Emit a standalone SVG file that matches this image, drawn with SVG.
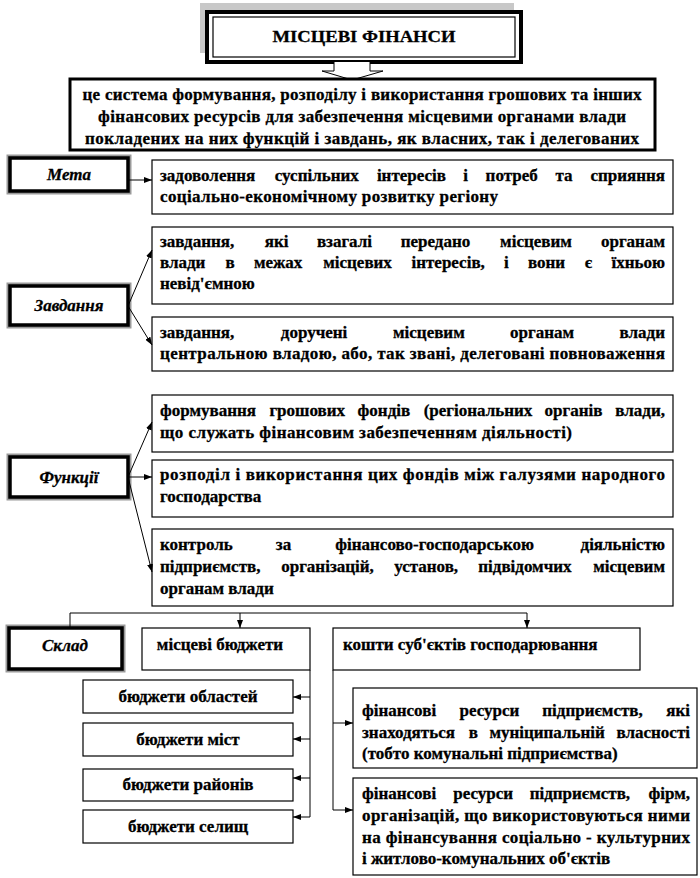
<svg xmlns="http://www.w3.org/2000/svg" width="700" height="878" viewBox="0 0 700 878">
<defs>
<style>
.t{font-family:'Liberation Serif','DejaVu Serif',serif;font-weight:700;font-size:17px;fill:#000;stroke:#000;stroke-width:0.3}
.c{text-anchor:middle}
.e{text-anchor:end}
.lb{font-style:italic;text-anchor:middle}
.box{fill:#fff;stroke:#000;stroke-width:1.2}
.lsh{fill:none;stroke:#9a9a9a;stroke-width:7}
.lbx{fill:#fff;stroke:#000;stroke-width:3.5}
.cn{fill:none;stroke:#000;stroke-width:1}
</style>
<marker id="ah" viewBox="0 0 8 6" refX="8" refY="3" markerWidth="8" markerHeight="6" markerUnits="userSpaceOnUse" orient="auto"><path d="M0,0L8,3L0,6z" fill="#000"/></marker>
</defs>
<rect width="700" height="878" fill="#fff"/>

<g id="title">
<rect x="200" y="3" width="314" height="50" fill="#c8c8c8"/>
<rect x="207" y="12" width="314" height="50" fill="#fff" stroke="#000" stroke-width="4"/>
<rect x="213" y="17" width="302" height="40" fill="none" stroke="#000" stroke-width="1.2"/>
<text class="t c" x="364" y="42" textLength="183" lengthAdjust="spacingAndGlyphs">МІСЦЕВІ ФІНАНСИ</text>
<path d="M334,62V71H322L352,80L383,71H370V62" fill="#fff" stroke="#000" stroke-width="1"/>
</g>

<g id="definition">
<rect x="70" y="79" width="585" height="71" fill="#fff" stroke="#000" stroke-width="3"/>
<text class="t c" x="362" y="100" textLength="559" lengthAdjust="spacing">це система формування, розподілу і використання грошових та інших</text>
<text class="t c" x="362" y="122" textLength="528" lengthAdjust="spacing">фінансових ресурсів для забезпечення місцевими органами влади</text>
<text class="t c" x="362" y="144" textLength="554" lengthAdjust="spacing">покладених на них функцій і завдань, як власних, так і делегованих</text>
</g>

<g id="meta-label">
<rect class="lsh" x="10" y="158" width="118" height="33"/>
<rect class="lbx" x="10" y="158" width="118" height="33"/>
<text class="t lb" x="69" y="180">Мета</text>
</g>
<g id="meta-box">
<rect class="box" x="152" y="160" width="521" height="54"/>
<text class="t" y="181"><tspan x="160">задоволення</tspan><tspan x="274.8">суспільних</tspan><tspan x="376.9">інтересів</tspan><tspan x="463.3">і</tspan><tspan x="485.6">потреб</tspan><tspan x="555.4">та</tspan></text>
<text class="t e" x="665" y="181">сприяння</text>
<text class="t" x="160" y="202" textLength="338" lengthAdjust="spacing">соціально-економічному розвитку регіону</text>
</g>

<g id="zavd-label">
<rect class="lsh" x="10" y="286" width="118" height="39"/>
<rect class="lbx" x="10" y="286" width="118" height="39"/>
<text class="t lb" x="69" y="311">Завдання</text>
</g>
<g id="zavd-box1">
<rect class="box" x="152" y="227" width="521" height="77"/>
<text class="t" y="247"><tspan x="160">завдання,</tspan><tspan x="264.7">які</tspan><tspan x="316.9">взагалі</tspan><tspan x="400.7">передано</tspan><tspan x="500.1">місцевим</tspan></text>
<text class="t e" x="665" y="247">органам</text>
<text class="t" y="268"><tspan x="160">влади</tspan><tspan x="225.5">в</tspan><tspan x="253.9">межах</tspan><tspan x="323.2">місцевих</tspan><tspan x="411.5">інтересів,</tspan><tspan x="503.9">і</tspan><tspan x="528">вони</tspan><tspan x="584.7">є</tspan></text>
<text class="t e" x="665" y="268">їхньою</text>
<text class="t" x="160" y="289">невід'ємною</text>
</g>
<g id="zavd-box2">
<rect class="box" x="152" y="317" width="521" height="54"/>
<text class="t" y="338"><tspan x="160">завдання,</tspan><tspan x="280.8">доручені</tspan><tspan x="393">місцевим</tspan><tspan x="510">органам</tspan></text>
<text class="t e" x="665" y="338">влади</text>
<text class="t" x="160" y="359" textLength="505" lengthAdjust="spacing">центральною владою, або, так звані, делеговані повноваження</text>
</g>

<g id="func-label">
<rect class="lsh" x="10" y="457" width="118" height="40"/>
<rect class="lbx" x="10" y="457" width="118" height="40"/>
<text class="t lb" x="69" y="483">Функції</text>
</g>
<g id="func-box1">
<rect class="box" x="152" y="395" width="521" height="57"/>
<text class="t" y="416"><tspan x="160">формування</tspan><tspan x="269.4">грошових</tspan><tspan x="357.6">фондів</tspan><tspan x="423.7">(регіональних</tspan><tspan x="544.5">органів</tspan></text>
<text class="t e" x="665" y="416">влади,</text>
<text class="t" x="160" y="438" textLength="412" lengthAdjust="spacing">що служать фінансовим забезпеченням діяльності)</text>
</g>
<g id="func-box2">
<rect class="box" x="152" y="460" width="521" height="57"/>
<text class="t" x="160" y="480" textLength="505" lengthAdjust="spacing">розподіл і використання цих фондів між галузями народного</text>
<text class="t" x="160" y="502">господарства</text>
</g>
<g id="func-box3">
<rect class="box" x="152" y="529" width="521" height="77"/>
<text class="t" y="550"><tspan x="160">контроль</tspan><tspan x="275.8">за</tspan><tspan x="335.3">фінансово-господарською</tspan></text>
<text class="t e" x="665" y="550">діяльністю</text>
<text class="t" y="572"><tspan x="160">підприємств,</tspan><tspan x="281.2">організацій,</tspan><tspan x="394.2">установ,</tspan><tspan x="478.3">підвідомчих</tspan></text>
<text class="t e" x="665" y="572">місцевим</text>
<text class="t" x="160" y="594">органам влади</text>
</g>

<g id="sklad-label">
<rect class="lsh" x="9" y="628" width="113" height="41"/>
<rect class="lbx" x="9" y="628" width="113" height="41"/>
<text class="t lb" x="65" y="651">Склад</text>
</g>
<g id="local-budgets">
<rect class="box" x="142" y="628" width="168" height="42"/>
<text class="t c" x="220" y="650">місцеві бюджети</text>
</g>
<g id="business-funds">
<rect class="box" x="333" y="628" width="307" height="42"/>
<text class="t" x="343" y="650">кошти суб'єктів господарювання</text>
</g>
<g id="b-oblast">
<rect class="box" x="83" y="680" width="210" height="33"/>
<text class="t c" x="188" y="702">бюджети областей</text>
</g>
<g id="b-mist">
<rect class="box" x="83" y="723" width="210" height="33"/>
<text class="t c" x="188" y="745">бюджети міст</text>
</g>
<g id="b-raion">
<rect class="box" x="83" y="769" width="210" height="32"/>
<text class="t c" x="188" y="790">бюджети районів</text>
</g>
<g id="b-selyshch">
<rect class="box" x="83" y="810" width="210" height="33"/>
<text class="t c" x="188" y="832">бюджети селищ</text>
</g>
<g id="fin-a">
<rect class="box" x="353" y="688" width="344" height="80"/>
<text class="t" y="716"><tspan x="362">фінансові</tspan><tspan x="459.6">ресурси</tspan><tspan x="542.3">підприємств,</tspan></text>
<text class="t e" x="690" y="716">які</text>
<text class="t" y="738"><tspan x="362">знаходяться</tspan><tspan x="468.7">в</tspan><tspan x="489.4">муніципальній</tspan></text>
<text class="t e" x="690" y="738">власності</text>
<text class="t" x="362" y="759">(тобто комунальні підприємства)</text>
</g>
<g id="fin-b">
<rect class="box" x="353" y="778" width="344" height="97"/>
<text class="t" y="799"><tspan x="362">фінансові</tspan><tspan x="453.3">ресурси</tspan><tspan x="529.7">підприємств,</tspan></text>
<text class="t e" x="690" y="799">фірм,</text>
<text class="t" x="362" y="821" textLength="328" lengthAdjust="spacing">організацій, що використовуються ними</text>
<text class="t" x="362" y="843" textLength="328" lengthAdjust="spacing">на фінансування соціально - культурних</text>
<text class="t" x="362" y="864">і житлово-комунальних об'єктів</text>
</g>

<g id="connectors">
<path class="cn" d="M128,180H152" marker-end="url(#ah)"/>
<path class="cn" d="M128,306L152,250" marker-end="url(#ah)"/>
<path class="cn" d="M128,306L152,345" marker-end="url(#ah)"/>
<path class="cn" d="M128,477L152,422" marker-end="url(#ah)"/>
<path class="cn" d="M128,477H152" marker-end="url(#ah)"/>
<path class="cn" d="M128,477L152,572" marker-end="url(#ah)"/>
<path class="cn" d="M70,628V613H527V628" marker-end="url(#ah)"/>
<path class="cn" d="M240,613V628" marker-end="url(#ah)"/>
<path class="cn" d="M310,670V817"/>
<path class="cn" d="M310,697H293" marker-end="url(#ah)"/>
<path class="cn" d="M310,739H293" marker-end="url(#ah)"/>
<path class="cn" d="M310,778H293" marker-end="url(#ah)"/>
<path class="cn" d="M310,817H293" marker-end="url(#ah)"/>
<path class="cn" d="M333,670V810"/>
<path class="cn" d="M333,723H353" marker-end="url(#ah)"/>
<path class="cn" d="M333,810H353" marker-end="url(#ah)"/>
</g>
</svg>
